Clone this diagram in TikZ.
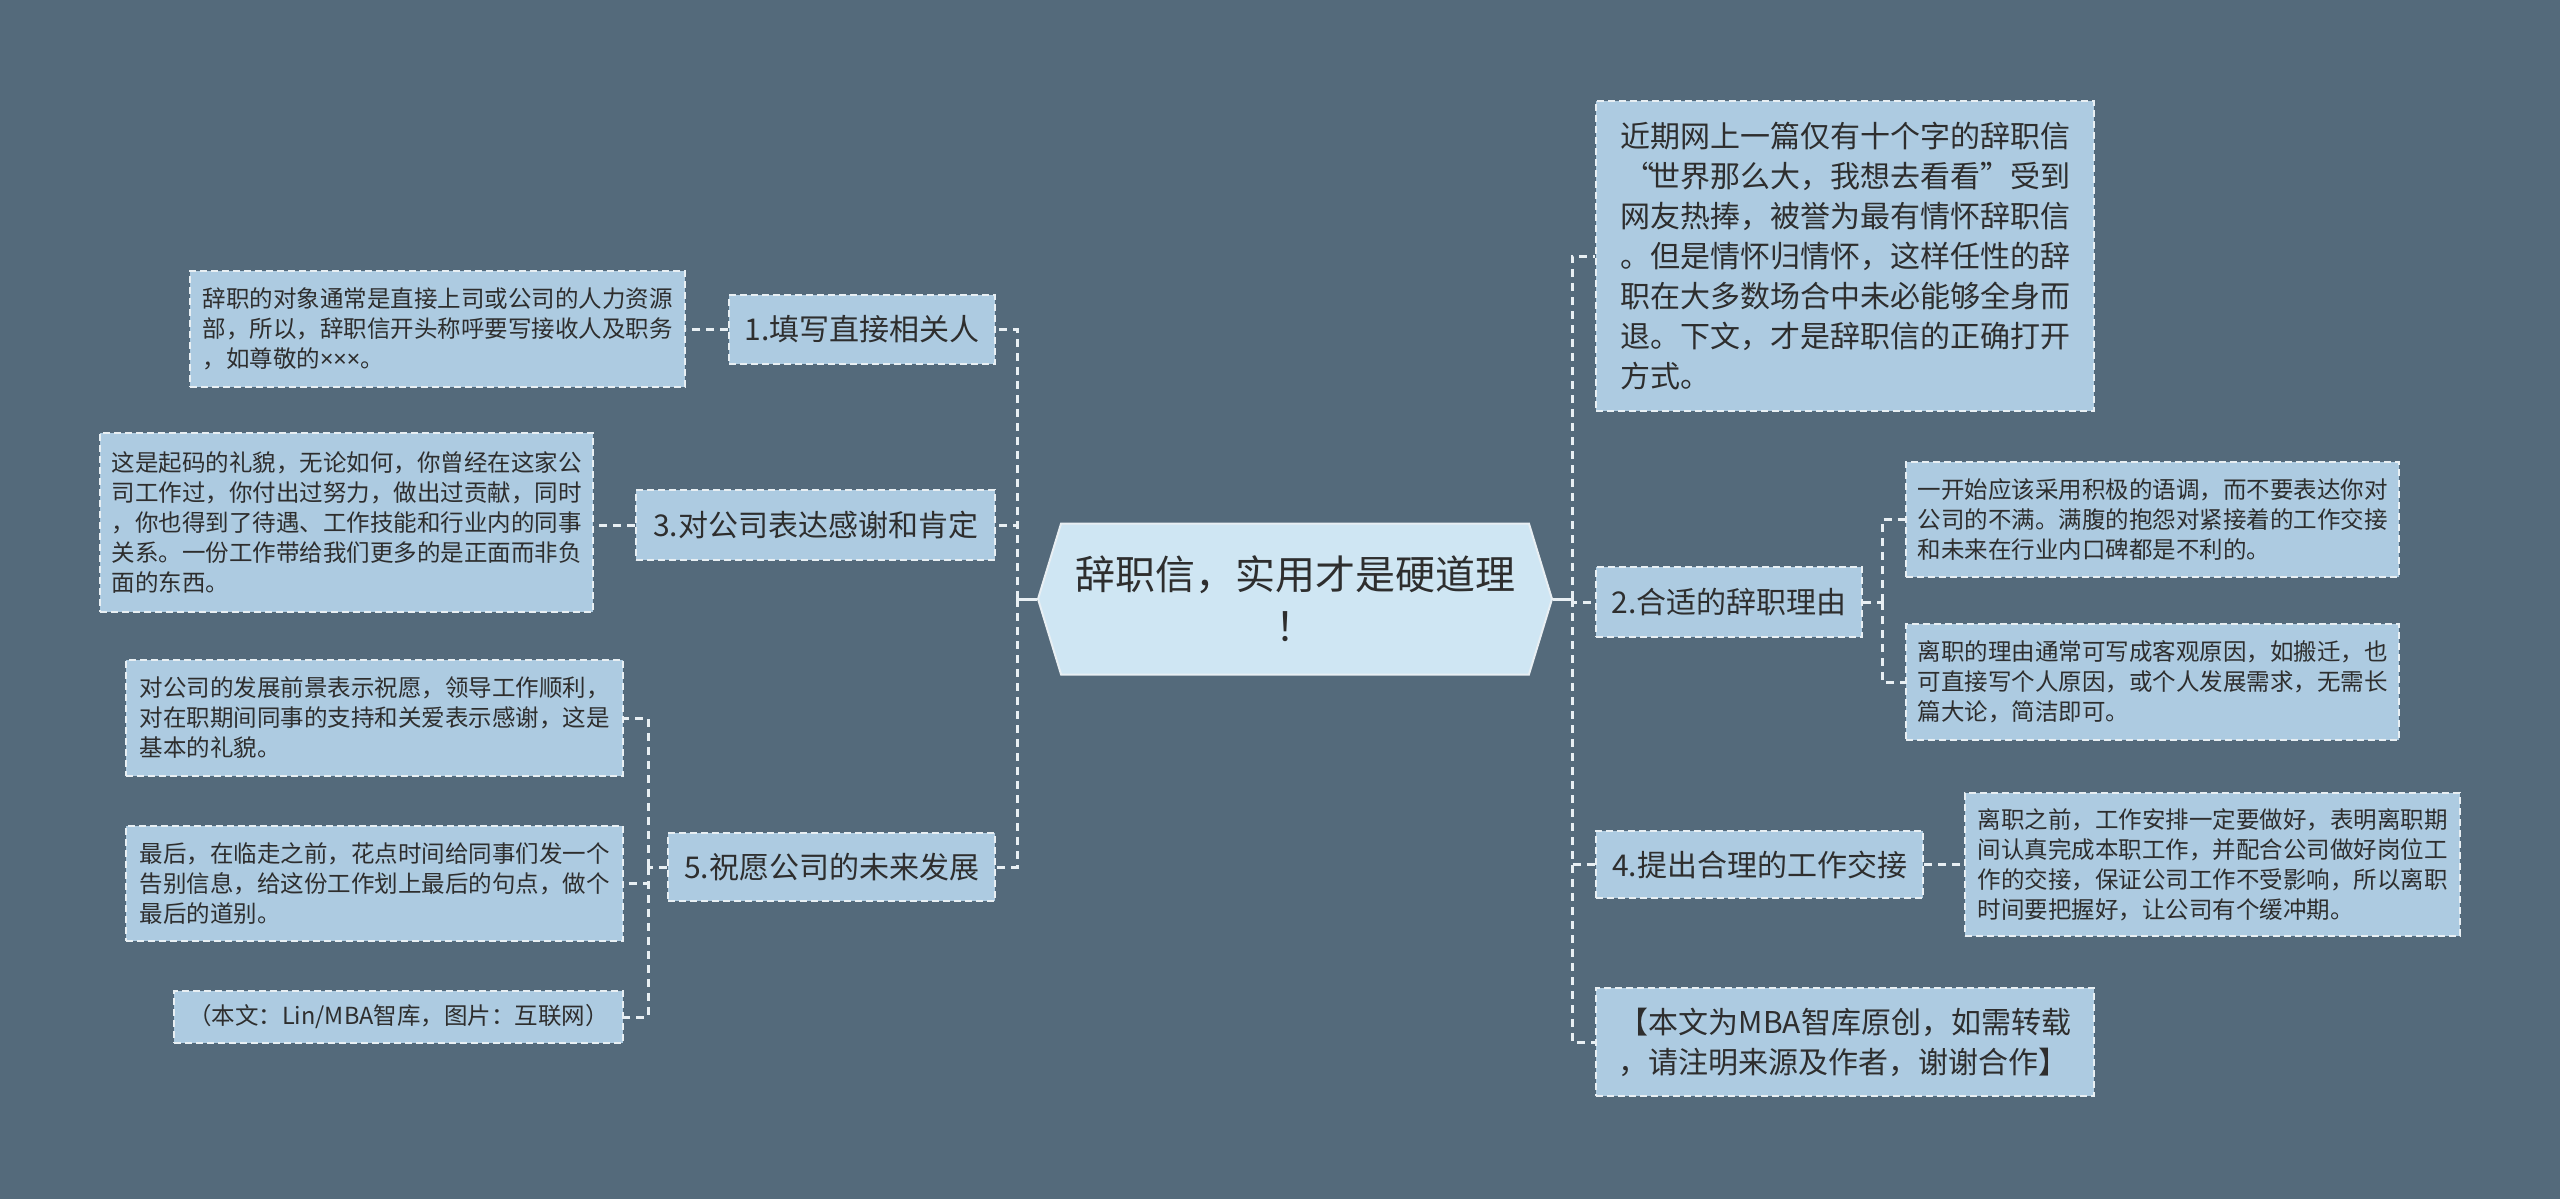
\documentclass[tikz,border=0pt]{standalone}
\usepackage{fontspec}
\setmainfont{Noto Sans CJK SC}
\newfontfamily\latinfont{Noto Sans}
\usetikzlibrary{shapes.symbols,calc}
\definecolor{bg}{HTML}{546A7B}
\definecolor{boxfill}{HTML}{ADCBE1}
\definecolor{rootfill}{HTML}{CFE6F3}
\definecolor{edge}{HTML}{E8EFF3}
\definecolor{txt}{HTML}{2E2E2E}
\tikzset{
  box/.style={draw=edge, line width=2pt, dash pattern=on 7pt off 4pt, fill=boxfill,
    text=txt, inner sep=0pt, align=left},
  leaf/.style={box, font=\fontsize{23.5}{30}\selectfont},
  mid/.style={box, font=\fontsize{30}{40}\selectfont},
  rootnode/.style={shape=signal, signal to=west and east, signal pointer angle=146,
    draw=edge, line width=2pt, fill=rootfill, text=txt, align=center,
    font=\fontsize{40}{52}\selectfont, inner sep=0pt},
  conn/.style={draw=edge, line width=3pt, dash pattern=on 8pt off 6pt},
  connsolid/.style={draw=edge, line width=3pt}
}
\begin{document}
\begin{tikzpicture}[x=1pt,y=-1pt]
\fill[bg] (0,0) rectangle (2560,1199);
\useasboundingbox (0,0) rectangle (2560,1199);

% root
\node[rootnode, minimum width=514pt, minimum height=151pt] (root) at (1295,599)
  {辞职信，实用才是硬道理\\！};

% left level 1
\node[mid, minimum width=266pt, minimum height=69pt, anchor=east, align=center] (n1) at (996,329.5) {1.填写直接相关人};
\node[mid, minimum width=359pt, minimum height=70pt, anchor=east, align=center] (n3) at (996,525) {3.对公司表达感谢和肯定};
\node[mid, minimum width=327pt, minimum height=68pt, anchor=east, align=center] (n5) at (996,867) {5.祝愿公司的未来发展};

% left leaves
\node[leaf, minimum width=495pt, minimum height=116pt, anchor=east] (l1a) at (686,329)
  {辞职的对象通常是直接上司或公司的人力资源\\部，所以，辞职信开头称呼要写接收人及职务\\，如尊敬的{\latinfont ×××}。};
\node[leaf, minimum width=493pt, minimum height=179pt, anchor=east] (l3a) at (594,522.5)
  {这是起码的礼貌，无论如何，你曾经在这家公\\司工作过，你付出过努力，做出过贡献，同时\\，你也得到了待遇、工作技能和行业内的同事\\关系。一份工作带给我们更多的是正面而非负\\面的东西。};
\node[leaf, minimum width=497pt, minimum height=116pt, anchor=east] (l5a) at (624,718)
  {对公司的发展前景表示祝愿，领导工作顺利，\\对在职期间同事的支持和关爱表示感谢，这是\\基本的礼貌。};
\node[leaf, minimum width=497pt, minimum height=115pt, anchor=east] (l5b) at (624,883.5)
  {最后，在临走之前，花点时间给同事们发一个\\告别信息，给这份工作划上最后的句点，做个\\最后的道别。};
\node[leaf, minimum width=449pt, minimum height=52pt, anchor=east] (l5c) at (624,1017)
  {（本文：Lin/MBA智库，图片：互联网）};

% right level 1
\node[mid, minimum width=498pt, minimum height=310pt, anchor=west] (intro) at (1595,256)
  {近期网上一篇仅有十个字的辞职信\\\hspace*{0.15em}\makebox[0.85em][l]{“}世界那么大，我想去看看”受到\\网友热捧，被誉为最有情怀辞职信\\。但是情怀归情怀，这样任性的辞\\职在大多数场合中未必能够全身而\\退。下文，才是辞职信的正确打开\\方式。};
\node[mid, minimum width=266pt, minimum height=70pt, anchor=west, align=center] (n2) at (1595,602) {2.合适的辞职理由};
\node[mid, minimum width=327pt, minimum height=67pt, anchor=west, align=center] (n4) at (1595,864.5) {4.提出合理的工作交接};
\node[mid, minimum width=498pt, minimum height=108pt, anchor=west] (fin) at (1595,1042)
  {【本文为MBA智库原创，如需转载\\，请注明来源及作者，谢谢合作】};

% right leaves
\node[leaf, minimum width=493pt, minimum height=115pt, anchor=west] (l2a) at (1905,519.5)
  {一开始应该采用积极的语调，而不要表达你对\\公司的不满。满腹的抱怨对紧接着的工作交接\\和未来在行业内口碑都是不利的。};
\node[leaf, minimum width=493pt, minimum height=116pt, anchor=west] (l2b) at (1905,682)
  {离职的理由通常可写成客观原因，如搬迁，也\\可直接写个人原因，或个人发展需求，无需长\\篇大论，简洁即可。};
\node[leaf, minimum width=495pt, minimum height=143pt, anchor=west] (l4a) at (1964,864.5)
  {离职之前，工作安排一定要做好，表明离职期\\间认真完成本职工作，并配合公司做好岗位工\\作的交接，保证公司工作不受影响，所以离职\\时间要把握好，让公司有个缓冲期。};

% connectors left
\coordinate (lj) at (1017,599);
\draw[connsolid] (root.west) -- (lj);
\draw[conn] (lj) |- (n1.east);
\draw[conn] (lj) |- (n3.east);
\draw[conn] (lj) |- (n5.east);
\draw[conn] (n1.west) -- (n1.west -| l1a.east);
\draw[conn] (n3.west) -- (n3.west -| l3a.east);
\coordinate (j5) at (648,867);
\draw[conn] (n5.west) -- (j5);
\draw[conn] (j5) |- (l5a.east);
\draw[conn] (j5) |- (l5b.east);
\draw[conn] (j5) |- (l5c.east);

% connectors right
\coordinate (rj) at (1572,599);
\draw[connsolid] (root.east) -- (rj);
\draw[conn] (rj) |- (intro.west);
\draw[conn] (rj) |- (n2.west);
\draw[conn] (rj) |- (n4.west);
\draw[conn] (rj) |- (fin.west);
\coordinate (j2) at (1882,602);
\draw[conn] (n2.east) -- (j2);
\draw[conn] (j2) |- (l2a.west);
\draw[conn] (j2) |- (l2b.west);
\draw[conn] (n4.east) -- (n4.east -| l4a.west);
\end{tikzpicture}
\end{document}
